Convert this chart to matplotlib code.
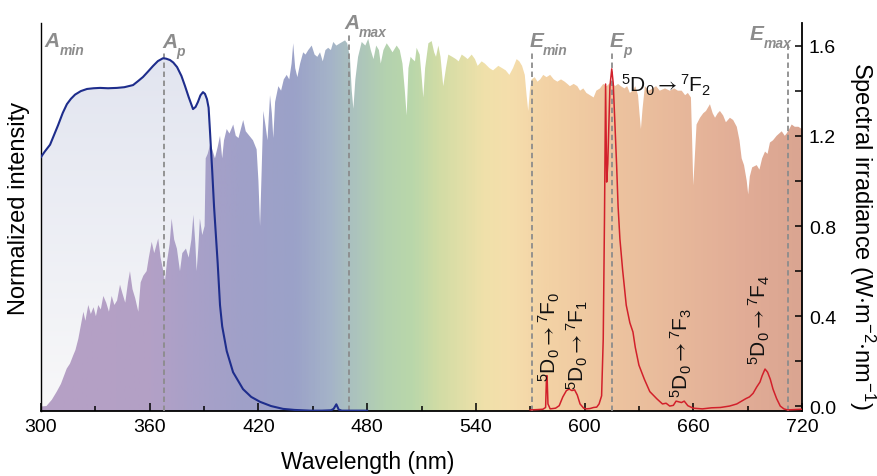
import numpy as np
import matplotlib
matplotlib.use("Agg")
import matplotlib.pyplot as plt
from matplotlib.colors import LinearSegmentedColormap
from matplotlib.patches import Polygon
from matplotlib.transforms import blended_transform_factory

plt.rcParams["font.family"] = ["Liberation Sans", "DejaVu Sans"]
plt.rcParams["mathtext.fontset"] = "custom"
plt.rcParams["mathtext.rm"] = "Liberation Sans"
plt.rcParams["mathtext.it"] = "Liberation Sans:italic"
plt.rcParams["mathtext.bf"] = "Liberation Sans:bold"
plt.rcParams["mathtext.sf"] = "STIXGeneral"
plt.rcParams["mathtext.fallback"] = "stixsans"

# AM1.5G solar spectrum (W m-2 nm-1)
solar_nm = [300.0, 303, 306, 308.7, 311, 314.2, 316, 317.8, 319, 320.6, 322, 323.4, 324.5, 326.1,
            327.5, 329, 330.3, 331.6, 333, 334.4, 336, 337.5, 339, 340.5, 342, 343.6, 345, 346.5,
            348, 349.1, 350.5, 352, 353.7, 355, 356.5, 358.3, 359.5, 361.1, 362.5, 364.7, 366,
            367.5, 368.4, 369.5, 371, 372.1, 373.5, 375, 376.7, 378, 380, 381.5, 383, 384.1,
            385.2, 385.9, 386.8, 387.7, 389, 390.3, 390.9, 392, 393.3, 394.5, 396, 397.5, 398.8,
            400, 401, 402.5, 404, 406.1, 407.5, 409, 411.6, 413, 415, 417, 419, 420, 420.9, 421.8,
            422.7, 424, 425, 426.4, 427.4, 428.2, 429.2, 431, 432.5, 434, 435.6, 437, 438.3, 439.2,
            440.3, 441.5, 443, 444.7, 446, 447.5, 449.4, 451, 452.5, 454, 455.5, 457, 458.5, 460,
            461.3, 463, 465, 467.8, 469, 470.5, 471.5, 472.4, 473.5, 475, 477, 479, 480.6, 482,
            483.5, 485, 486.5, 487.5, 489, 490.8, 492.5, 494, 496.3, 498, 499.5, 500.8, 501.8,
            502.8, 504, 505, 506.4, 507.3, 509, 510, 511, 512, 513.8, 515.6, 517, 518, 519.3,
            520.5, 522, 523.5, 524.8, 527, 529, 530.5, 532.2, 534, 535.5, 537.7, 539.5, 541,
            543.2, 545, 547.5, 549.5, 552.4, 554.5, 556.5, 558.5, 560.5, 562.5, 564, 565.5, 567,
            568, 568.9, 569.8, 570.8, 572.5, 574, 575.5, 577.2, 579, 581, 583, 585, 587, 589,
            590.5, 591.9, 594, 596, 597.5, 599.3, 601, 603, 605, 606.5, 608.5, 610.3, 612.2,
            613.5, 615, 616.8, 618.5, 620, 622, 623.5, 625, 626.5, 628, 629.5, 630.3, 631.1, 632,
            633.3, 635.5, 637.5, 639.5, 641.5, 644.4, 647, 649.5, 651.5, 653.6, 655.5, 657, 658.7,
            659.3, 660, 660.8, 661.8, 663.7, 665.5, 667, 669.2, 670.7, 672, 673.5, 674.7, 676.5,
            678, 680.2, 682, 684, 685.5, 686.7, 688, 689.5, 690.3, 691.2, 692.5, 695, 696.5, 698,
            699.6, 701, 702.3, 704, 706, 708.8, 710.5, 711.5, 713, 714.3, 716, 718, 720]
solar_val = [0.0, 0.002, 0.03, 0.066, 0.10, 0.168, 0.19, 0.227, 0.25, 0.30, 0.36, 0.42, 0.38, 0.45,
             0.41, 0.44, 0.40, 0.45, 0.43, 0.49, 0.46, 0.42, 0.49, 0.45, 0.47, 0.54, 0.50, 0.46,
             0.55, 0.60, 0.52, 0.48, 0.42, 0.55, 0.58, 0.60, 0.66, 0.73, 0.68, 0.745, 0.66,
             0.60, 0.554, 0.64, 0.72, 0.833, 0.74, 0.70, 0.60, 0.68, 0.70, 0.66, 0.74, 0.85,
             0.72, 0.60, 0.70, 0.833, 0.76, 0.80, 1.10, 1.12, 1.16, 1.14, 1.10, 1.15, 1.20,
             1.10, 1.18, 1.23, 1.21, 1.25, 1.20, 1.19, 1.27, 1.22, 1.20, 1.18, 1.14, 1.00, 0.80, 1.05,
             1.31, 1.24, 1.18, 1.38, 1.30, 1.19, 1.35, 1.42, 1.40, 1.45, 1.47, 1.45, 1.52, 1.61,
             1.50, 1.46, 1.52, 1.57, 1.56, 1.58, 1.60, 1.56, 1.55, 1.57, 1.53, 1.58, 1.59, 1.58,
             1.616, 1.60, 1.61, 1.623, 1.61, 1.55, 1.40, 1.32, 1.45, 1.55, 1.616, 1.60, 1.63, 1.58,
             1.54, 1.60, 1.58, 1.52, 1.58, 1.61, 1.59, 1.57, 1.60, 1.58, 1.52, 1.40, 1.29,
             1.50, 1.55, 1.54, 1.53, 1.59, 1.56, 1.47, 1.37, 1.50, 1.61, 1.62, 1.57, 1.55, 1.60,
             1.55, 1.42, 1.50, 1.56, 1.55, 1.54, 1.53, 1.56, 1.55, 1.54, 1.56, 1.54, 1.51,
             1.53, 1.52, 1.50, 1.49, 1.51, 1.50, 1.49, 1.47, 1.50, 1.54, 1.53, 1.51, 1.47,
             1.38, 1.31, 1.40, 1.45, 1.46, 1.44, 1.45, 1.47, 1.46, 1.47, 1.45, 1.44, 1.45, 1.44,
             1.43, 1.42, 1.43, 1.42, 1.40, 1.41, 1.39, 1.38, 1.37, 1.40, 1.41, 1.43, 1.42,
             1.43, 1.44, 1.42, 1.43, 1.42, 1.41, 1.42, 1.39, 1.40, 1.42, 1.38, 1.30, 1.23, 1.32,
             1.42, 1.40, 1.41, 1.42, 1.40, 1.41, 1.40, 1.41, 1.40, 1.40, 1.38, 1.39, 1.37,
             1.20, 0.98, 1.10, 1.25, 1.28, 1.30, 1.31, 1.34, 1.30, 1.28, 1.30, 1.31, 1.29,
             1.26, 1.28, 1.27, 1.24, 1.18, 1.10, 1.07, 1.00, 0.94, 1.02, 1.06, 1.07, 1.05, 1.10,
             1.13, 1.12, 1.17, 1.18, 1.20, 1.22, 1.20, 1.21, 1.23, 1.25, 1.24, 1.24, 1.23]

# normalized absorption (excitation) spectrum
abs_nm = [300.0, 302, 305, 307, 309.4, 312, 314.3, 316.5, 318.8, 322, 325.4, 329, 332.6, 337,
          341.9, 346, 350.8, 353.5, 356.3, 359, 361.8, 364.5, 367.3, 369, 371.2, 373, 375.1,
          377.5, 379.5, 381.5, 383.9, 385.3, 386.6, 388, 389.4, 390.5, 391.6, 392.5, 393.3,
          394.5, 395.5, 396.5, 397.5, 398.8, 400, 402.5, 406, 411.5, 416, 420.9, 427, 433.6,
          440, 448.5, 455, 460, 461.5, 463, 464.3, 466, 472, 480]
abs_val = [0.72, 0.735, 0.755, 0.78, 0.81, 0.845, 0.87, 0.885, 0.897, 0.907, 0.913, 0.915, 0.916,
           0.915, 0.916, 0.918, 0.924, 0.935, 0.947, 0.962, 0.978, 0.992, 1.0, 0.999, 0.995,
           0.988, 0.975, 0.95, 0.921, 0.89, 0.856, 0.862, 0.876, 0.895, 0.904, 0.899, 0.884,
           0.86, 0.79, 0.68, 0.58, 0.50, 0.42, 0.30, 0.24, 0.17, 0.11, 0.062, 0.04, 0.026,
           0.014, 0.006, 0.003, 0.001, 0.001, 0.002, 0.006, 0.019, 0.004, 0.001, 0.001, 0.001]

# normalized Eu3+ emission spectrum
em_nm = [570, 574, 577, 578.5, 579.0, 579.3, 579.8, 581, 584, 586, 588, 590, 591.5, 593, 594.5,
         596, 597.5, 599.5, 601, 603, 605, 606.7, 608, 609.4, 610.3, 611.0, 611.6, 612.2, 612.8,
         614, 615, 615.8, 616.7, 617.7, 618.5, 619.5, 621, 623, 625, 626.7, 628, 630, 633, 636,
         640, 643, 645, 647, 649, 650.5, 652, 653.5, 655, 657, 660, 665, 670, 675, 680, 684, 686,
         689, 691, 693, 695, 696.8, 698, 699.6, 701, 702.5, 704, 706, 708, 710, 712, 716, 720]
em_val = [0.003, 0.004, 0.005, 0.01, 0.10, 0.10, 0.02, 0.006, 0.008, 0.015, 0.04, 0.058, 0.062,
          0.058, 0.06, 0.045, 0.02, 0.008, 0.006, 0.007, 0.010, 0.011, 0.02, 0.043, 0.204, 0.55,
          0.927, 0.649, 0.70, 0.92, 0.97, 0.93, 0.82, 0.695, 0.58, 0.488, 0.40, 0.30, 0.25, 0.224,
          0.18, 0.13, 0.09, 0.055, 0.034, 0.02, 0.022, 0.014, 0.016, 0.028, 0.026, 0.024, 0.028,
          0.015, 0.008, 0.006, 0.009, 0.010, 0.014, 0.020, 0.026, 0.035, 0.04, 0.05, 0.068, 0.082,
          0.10, 0.119, 0.11, 0.09, 0.062, 0.035, 0.014, 0.006, 0.003, 0.004, 0.005]

# dashed guide lines (wavelength, top in axes fraction)
marker_nm = [368, 470, 571, 615, 712]
marker_top = [0.928, 0.977, 0.928, 0.928, 0.951]

# A/E labels: letter, subscript, letter left edge (nm), baseline (axes fraction)
label_main = ["A", "A", "A", "E", "E", "E"]
label_sub = ["min", "p", "max", "min", "p", "max"]
label_x = [302, 366.8, 467.5, 569.6, 613.8, 691.3]
label_y = [0.941, 0.938, 0.987, 0.941, 0.941, 0.959]

# transition labels: text, x (nm), y (intensity), rotation
ARROW = r"{\mathsf{\rightarrow}}"
trans_txt = [r"$^{5}\mathrm{D}_{0}" + ARROW + r"{}^{7}\mathrm{F}_{%d}$" % k for k in (2, 0, 1, 3, 4)]
trans_x = [620.1, 584.6, 600.2, 657.1, 700.5]
trans_y = [0.905, 0.085, 0.062, 0.040, 0.133]
trans_rot = [0, 90, 90, 90, 90]

sun_stops = [300, 360, 380, 410, 440, 460, 470, 490, 505, 520, 545, 560, 580, 610, 650, 690, 720]
sun_cols = ["#b6a0c5", "#b3a0c6", "#aaa0c8", "#a0a0c8", "#9ba2c8", "#a5b4c8", "#aac0c0",
            "#b4d2af", "#b9d7aa", "#d2dca5", "#f0e1aa", "#f5deac", "#f3d2a5", "#eec6a0",
            "#e8b99b", "#e1ac96", "#daa591"]

fig = plt.figure(figsize=(8.77, 4.77), dpi=100)
ax = fig.add_axes([41 / 877, 1 - 412 / 477, 761 / 877, 388 / 477])
ax2 = ax.twinx()
ax.set_zorder(ax2.get_zorder() + 1)
ax.patch.set_visible(False)

# absorption fill (soft vertical gradient), drawn under the solar spectrum
abs_cmap = LinearSegmentedColormap.from_list("absfill", ["#f8f8f9", "#e2e5f0"])
abs_img = ax2.imshow(np.linspace(0, 1, 256).reshape(-1, 1), extent=[300, 720, 0, 1.0],
                     origin="lower", aspect="auto", cmap=abs_cmap, transform=ax.transData,
                     zorder=0.5)
abs_poly = Polygon(np.column_stack([abs_nm + [480, 300], abs_val + [0, 0]]), closed=True,
                   fc="none", ec="none", transform=ax.transData)
ax2.add_patch(abs_poly)
abs_img.set_clip_path(abs_poly)

# solar spectrum with rainbow-ish gradient
sun_cmap = LinearSegmentedColormap.from_list(
    "sun", [((s - 300) / 420, c) for s, c in zip(sun_stops, sun_cols)])
sun_img = ax2.imshow(np.linspace(300, 720, 600).reshape(1, -1), extent=[300, 720, -0.02, 1.7],
                     origin="lower", aspect="auto", cmap=sun_cmap, vmin=300, vmax=720, zorder=1)
sun_poly = Polygon(np.column_stack([solar_nm + [720, 300], solar_val + [-0.02, -0.02]]),
                   closed=True, fc="none", ec="none", transform=ax2.transData)
ax2.add_patch(sun_poly)
sun_img.set_clip_path(sun_poly)

for x, top in zip(marker_nm, marker_top):
    ax.axvline(x, ymin=0, ymax=top, color="#8c8c8c", ls=(0, (3, 2)), lw=1.3, zorder=3)

ax.plot(abs_nm, abs_val, color="#1e2d8c", lw=1.5, zorder=5)
ax.plot(em_nm, em_val, color="#d2202b", lw=1.1, zorder=5)

bt = blended_transform_factory(ax.transData, ax.transAxes)
for m, s, x, y in zip(label_main, label_sub, label_x, label_y):
    ax.text(x, y, m, transform=bt, fontsize=15, color="#8c8c8c", fontweight="bold",
            style="italic", ha="left", va="baseline", zorder=6)
    dx = 10.6 if m == "A" else 9.6
    ax.annotate(s, xy=(x, y), xycoords=bt, xytext=(dx, -5.5), textcoords="offset points",
                fontsize=10, color="#8c8c8c", fontweight="bold", style="italic",
                ha="left", va="baseline", zorder=6)

for s, x, y, r in zip(trans_txt, trans_x, trans_y, trans_rot):
    ax.text(x, y, s, rotation=r, rotation_mode="anchor", ha="left", va="baseline",
            fontsize=15, color="#111111", zorder=6)

ax.set_xlim(300, 720)
ax.set_ylim(0, 1.1)
ax2.set_ylim(-0.02, 1.70)
ax2.set_xlim(300, 720)

ax.set_xticks(np.arange(300, 721, 60))
ax.set_xticks(np.arange(330, 720, 60), minor=True)
ax.tick_params(axis="x", which="both", direction="in", width=1.1, labelsize=14, pad=5)
ax.tick_params(axis="x", which="major", length=6)
ax.tick_params(axis="x", which="minor", length=3.5)
ax.tick_params(axis="y", which="both", left=False, labelleft=False)

ax2.set_yticks(np.arange(0, 1.61, 0.4))
ax2.set_yticklabels([f"{v:.1f}" for v in np.arange(0, 1.61, 0.4)])
ax2.set_yticks(np.arange(0.2, 1.61, 0.4), minor=True)
ax2.tick_params(axis="y", which="both", direction="in", length=5, width=1.1, labelsize=14,
                pad=5)

for side in ["top", "right"]:
    ax.spines[side].set_visible(False)
for side in ["top", "left", "bottom"]:
    ax2.spines[side].set_visible(False)
ax.spines["left"].set_linewidth(1.0)
ax.spines["bottom"].set_linewidth(1.3)
ax2.spines["right"].set_linewidth(1.3)

fig.text(368 / 877, 1 - 463 / 477, "Wavelength (nm)", ha="center", va="center", fontsize=16.5)
fig.text(19 / 877, 1 - 208 / 477, "Normalized intensity", ha="center", va="center",
         rotation=90, fontsize=17)
fig.text(862 / 877, 1 - 236 / 477,
         r"Spectral irradiance (W${\cdot}$m$^{-2}{\cdot}$nm$^{-1}$)",
         ha="center", va="center", rotation=270, fontsize=17)

fig.savefig("out.png", dpi=100)
